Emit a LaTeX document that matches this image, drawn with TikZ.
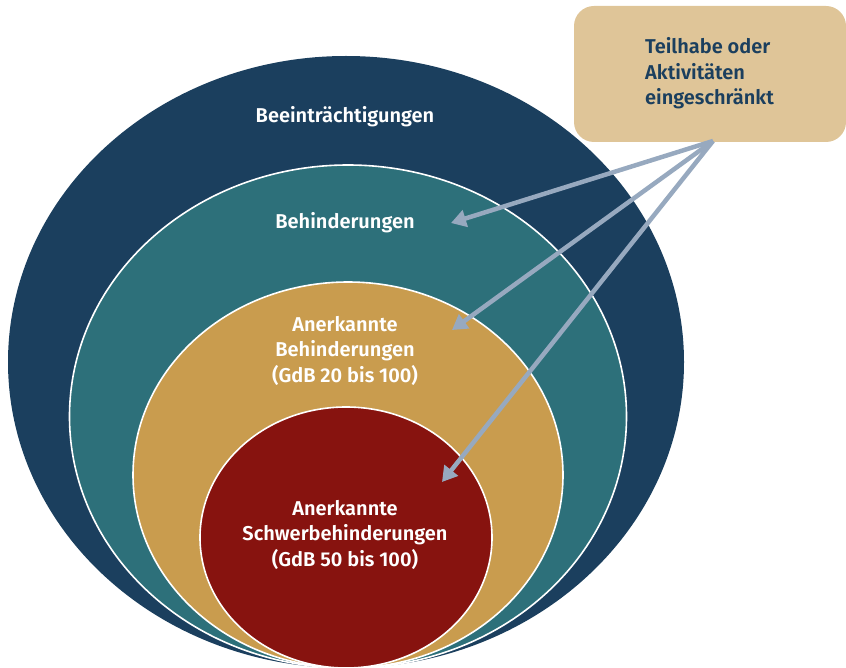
\documentclass[tikz,border=0pt]{standalone}
\usepackage{fontspec}
\setmainfont{Fira Sans}[UprightFont={* SemiBold}]
\usetikzlibrary{shapes.geometric,arrows.meta}
\definecolor{navy}{HTML}{1B3F5E}
\definecolor{teal2}{HTML}{2D707A}
\definecolor{tan2}{HTML}{C99C4E}
\definecolor{red2}{HTML}{87130F}
\definecolor{boxtan}{HTML}{DFC598}
\definecolor{arr}{HTML}{97A9BF}
\tikzset{
  ring/.style={ellipse, inner sep=0pt, draw=white, line width=1.6pt},
  lbl/.style={text=white, align=center, font=\fontsize{20}{25.5}\selectfont, inner sep=0pt},
  pointer/.style={draw=arr, line width=4.5pt, -{Triangle[length=15pt,width=17pt]}}
}
\begin{document}
\begin{tikzpicture}[x=1pt,y=-1pt]
\useasboundingbox (0,0) rectangle (846,668);
\node[ring, draw=none, fill=navy, minimum width=676pt, minimum height=612pt] (outer) at (346,362) {};
\node[ring, fill=teal2, minimum width=557pt, minimum height=503pt] (behind) at (348,416.5) {};
\node[ring, fill=tan2, minimum width=430pt, minimum height=386pt] (anerk) at (348,475) {};
\node[ring, fill=red2, minimum width=292pt, minimum height=261pt] (schwer) at (346,537.5) {};

\node[lbl, anchor=base] (t1) at (345,123) {Beeinträchtigungen};
\node[lbl, anchor=base] (t2) at (345,229) {Behinderungen};
\node[lbl, anchor=base] (t3) at (345,382) {Anerkannte\\Behinderungen\\(GdB 20 bis 100)};
\node[lbl, anchor=base] (t4) at (345,566) {Anerkannte\\Schwerbehinderungen\\(GdB 50 bis 100)};

\node[fill=boxtan, rounded corners=20pt, minimum width=272pt, minimum height=136pt, inner sep=0pt] (box) at (710,74) {};
\node[lbl, text=navy, align=left, anchor=base west] (bt) at (645,105) {Teilhabe oder\\Aktivitäten\\eingeschränkt};

\coordinate (src) at (713,141);
\coordinate (a1) at (451,223);
\coordinate (a2) at (452,330);
\coordinate (a3) at (442,482);
\draw[pointer] (src) -- (a1);
\draw[pointer] (src) -- (a2);
\draw[pointer] (src) -- (a3);
\end{tikzpicture}
\end{document}
